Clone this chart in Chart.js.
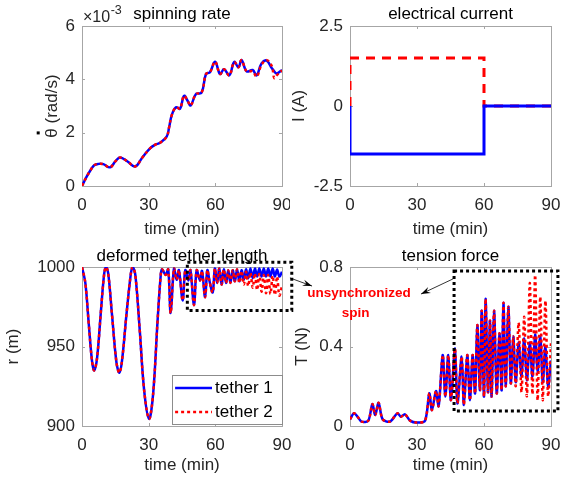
<!DOCTYPE html>
<html>
<head>
<meta charset="utf-8">
<script src="https://cdn.jsdelivr.net/npm/chart.js@4.4.0/dist/chart.umd.min.js"></script>
<style>
  body { margin: 0; background: #fff; }
  #fig { position: relative; width: 569px; height: 480px; overflow: hidden; background: #fff; }
  #fig canvas { position: absolute; }
</style>
</head>
<body>
<div id="fig">
  <canvas id="spin" width="290" height="240" style="left:0;top:0"></canvas>
  <canvas id="current" width="280" height="240" style="left:289px;top:0"></canvas>
  <canvas id="length" width="300" height="240" style="left:0;top:240px"></canvas>
  <canvas id="tension" width="284" height="240" style="left:285px;top:240px"></canvas>
</div>
<script>
// time ticks shared by all four panels (min)
var timeTicks = [0, 30, 60, 90];

// spinning rate (x1e-3 rad/s)
var spinTime = [0, 2.1, 3.9, 5.5, 7.5, 9.6, 12.6, 15, 17.1, 20.5, 23.9, 27, 30.6, 33, 35.1, 38.1, 39.2, 40.4, 42.3, 44.1, 45.9, 47.5, 48.9, 51.3, 53.8, 55.8, 57.6, 59.9, 62.1, 63.9, 66.3, 68.5, 70.4, 71.8, 74.1, 76.8, 78.6, 80.8, 83.1, 85.4, 86.5, 87.6, 90];
var spinRate1 = [0, 0.35, 0.6, 0.78, 0.83, 0.82, 0.7, 0.92, 1.07, 0.92, 0.73, 1.05, 1.41, 1.55, 1.62, 1.85, 2.2, 2.66, 2.95, 2.9, 3.38, 3.2, 3.02, 3.45, 3.5, 4.2, 4.27, 4.66, 4.2, 4.38, 4.15, 4.65, 4.45, 4.72, 4.3, 4.35, 4.15, 4.6, 4.7, 4.42, 4.3, 4.22, 4.35];
var spinRate2 = [0, 0.35, 0.6, 0.78, 0.83, 0.82, 0.7, 0.92, 1.07, 0.92, 0.73, 1.05, 1.41, 1.55, 1.62, 1.85, 2.2, 2.66, 2.95, 2.9, 3.38, 3.2, 3.02, 3.45, 3.5, 4.2, 4.27, 4.66, 4.2, 4.38, 4.15, 4.65, 4.45, 4.72, 4.3, 4.3, 4.1, 4.55, 4.72, 4.5, 4.05, 4.15, 4.33];
var spinTicks = [0, 2, 4, 6];

// electrical current (A)
var currentTime = [0, 0, 60, 60, 90];
var current1 = [0, -1.5, -1.5, 0, 0];
var current2 = [0, 1.5, 1.5, 0, 0];
var currentTicks = [-2.5, 0, 2.5];

// deformed tether length (m)
var lengthTime = [0, 1.5, 3, 4.5, 5.5, 6.8, 8.5, 10, 10.8, 11.8, 13.5, 15.5, 16.8, 18, 20, 22, 22.8, 24, 26, 28, 30.2, 32, 34, 35.5, 36.1, 37.6, 38.8, 39.9, 41.4, 42.6, 43.6, 45.3, 46.5, 47.9, 48.8, 50.4, 51.6, 53.1, 54, 55.4, 56.4, 57.4, 58.8, 59.8, 60.8, 61.8, 62.8, 63.8, 64.8, 65.8, 66.8, 67.8, 68.8, 69.8, 70.8, 71.8, 72.8, 73.8, 74.8, 75.8, 76.8, 77.8, 78.8, 79.8, 80.8, 81.8, 82.8, 83.8, 84.8, 85.8, 86.8, 87.8, 88.8, 90];
var length1 = [1000, 990, 965, 941, 935, 943, 972, 996, 1000, 996, 970, 940, 933.5, 941, 970, 996, 1000, 995, 960, 922, 904.5, 920, 966, 996, 998.5, 995, 998.5, 971, 999, 992, 998, 979, 998, 991.5, 998, 976, 998, 991.5, 997.5, 981, 998, 991, 984, 999, 990, 999, 989, 998.5, 990, 998, 990, 998, 991, 998.5, 991, 998, 992, 998.5, 993, 999, 993, 999, 994, 999, 994, 999, 994, 999, 994, 999, 994, 998.5, 994, 997];
var length2 = [1000, 990, 965, 941, 935, 943, 972, 996, 1000, 996, 970, 940, 933.5, 941, 970, 996, 1000, 995, 960, 922, 904.5, 920, 966, 996, 998.5, 995, 998.5, 971, 999, 992, 998, 979, 998, 991.5, 998, 976, 998, 991.5, 997.5, 981, 998, 991, 984, 999, 990, 999, 989, 998.5, 990, 998, 990, 998, 991, 998.5, 990, 997.5, 989, 997, 988, 996.5, 987, 996, 985.5, 995.5, 984.5, 995, 983.5, 995, 983, 994.5, 982.5, 994, 982, 988];
var lengthTicks = [900, 950, 1000];

// tension force (N)
var tensionTime = [0, 1.8, 3.5, 5.2, 8.2, 10, 11.3, 12.8, 14.6, 17.9, 21.2, 22.8, 24.6, 26.9, 29.9, 33.6, 35.5, 36.7, 38.5, 39.7, 41.5, 42.7, 44, 45.2, 47, 48.1, 50, 51, 52.5, 53.7, 54.9, 56, 57, 58.2, 59, 60, 60.7, 61.8, 62.7, 63.4, 64.5, 65.7, 66.9, 67.9, 68.7, 69.7, 70.9, 72, 73.1, 74.2, 75.5, 76.8, 78, 79.2, 80.5, 81.7, 82.9, 84, 85.2, 86.3, 87.5, 88.7, 90];
var tension1 = [0.034, 0.064, 0.045, 0.022, 0.027, 0.11, 0.055, 0.117, 0.034, 0.022, 0.064, 0.047, 0.059, 0.027, 0.017, 0.027, 0.164, 0.08, 0.176, 0.1, 0.357, 0.148, 0.357, 0.13, 0.39, 0.114, 0.349, 0.106, 0.357, 0.13, 0.357, 0.164, 0.508, 0.18, 0.58, 0.148, 0.64, 0.17, 0.53, 0.148, 0.58, 0.164, 0.466, 0.18, 0.62, 0.2, 0.6, 0.215, 0.45, 0.22, 0.42, 0.25, 0.44, 0.23, 0.42, 0.25, 0.46, 0.27, 0.45, 0.22, 0.4, 0.2, 0.33];
var tension2 = [0.034, 0.064, 0.045, 0.022, 0.027, 0.11, 0.055, 0.117, 0.034, 0.022, 0.064, 0.047, 0.059, 0.027, 0.017, 0.027, 0.164, 0.08, 0.176, 0.1, 0.357, 0.148, 0.357, 0.13, 0.39, 0.114, 0.349, 0.106, 0.357, 0.13, 0.357, 0.164, 0.508, 0.18, 0.58, 0.148, 0.64, 0.17, 0.53, 0.148, 0.58, 0.164, 0.466, 0.18, 0.62, 0.2, 0.6, 0.215, 0.45, 0.2, 0.52, 0.17, 0.55, 0.15, 0.72, 0.16, 0.76, 0.13, 0.65, 0.13, 0.63, 0.15, 0.42];
var tensionTicks = [0, 0.4, 0.8];

var seriesNames = ["tether 1", "tether 2"];

var FONT = "'Liberation Sans', Arial, Helvetica, sans-serif";
Chart.defaults.font.family = FONT;
Chart.defaults.font.size = 17;
Chart.defaults.color = "#262626";

function pairs(xs, ys) {
  return xs.map(function (x, i) { return { x: x, y: ys[i] }; });
}

// solid blue for tether 1, red dots laid over it for tether 2
function blueSeries(xs, ys, smooth) {
  return { label: seriesNames[0], data: pairs(xs, ys), borderColor: "#0000ff", borderWidth: 2.5,
    pointRadius: 0, tension: smooth, order: 1 };
}
function redSeries(xs, ys, smooth) {
  return { label: seriesNames[1], data: pairs(xs, ys), borderColor: "#ff0000", borderWidth: 2.5,
    borderDash: [3, 3], pointRadius: 0, tension: smooth, order: 0 };
}

// box round the axes with short inward ticks on every side
var framePlugin = {
  id: "frame",
  beforeDatasetsDraw: function (chart) {
    var a = chart.chartArea, ctx = chart.ctx;
    var xs = chart.scales.x, ys = chart.scales.y;
    ctx.save();
    ctx.strokeStyle = "#a6a6a6";
    ctx.lineWidth = 1;
    ctx.strokeRect(a.left + 0.5, a.top + 0.5, a.right - a.left, a.bottom - a.top);
    ctx.beginPath();
    xs.ticks.forEach(function (t) {
      var px = Math.round(xs.getPixelForValue(t.value)) + 0.5;
      ctx.moveTo(px, a.bottom); ctx.lineTo(px, a.bottom - 3);
      ctx.moveTo(px, a.top); ctx.lineTo(px, a.top + 3);
    });
    ys.ticks.forEach(function (t) {
      var py = Math.round(ys.getPixelForValue(t.value)) + 0.5;
      ctx.moveTo(a.left, py); ctx.lineTo(a.left + 3, py);
      ctx.moveTo(a.right, py); ctx.lineTo(a.right - 3, py);
    });
    ctx.stroke();
    ctx.restore();
  }
};

function dottedBox(ctx, x0, y0, x1, y1) {
  ctx.save();
  ctx.strokeStyle = "#000";
  ctx.lineWidth = 3;
  ctx.setLineDash([3, 3]);
  ctx.strokeRect(x0, y0, x1 - x0, y1 - y0);
  ctx.restore();
}

function arrow(ctx, x0, y0, x1, y1) {
  var ang = Math.atan2(y1 - y0, x1 - x0);
  ctx.save();
  ctx.strokeStyle = "#000";
  ctx.fillStyle = "#000";
  ctx.lineWidth = 0.8;
  ctx.beginPath();
  ctx.moveTo(x0, y0);
  ctx.lineTo(x1, y1);
  ctx.stroke();
  ctx.beginPath();
  ctx.moveTo(x1, y1);
  ctx.lineTo(x1 - 10 * Math.cos(ang - 0.33), y1 - 10 * Math.sin(ang - 0.33));
  ctx.lineTo(x1 - 6 * Math.cos(ang), y1 - 6 * Math.sin(ang));
  ctx.lineTo(x1 - 10 * Math.cos(ang + 0.33), y1 - 10 * Math.sin(ang + 0.33));
  ctx.closePath();
  ctx.fill();
  ctx.restore();
}

function panel(id, datasets, cfg, extra) {
  var plugins = [framePlugin];
  if (extra) plugins.push(extra);
  return new Chart(document.getElementById(id), {
    type: "line",
    data: { datasets: datasets },
    plugins: plugins,
    options: {
      responsive: false,
      animation: false,
      events: [],
      layout: { autoPadding: false, padding: { left: 0, right: cfg.padRight, top: 0, bottom: 0 } },
      plugins: {
        legend: { display: false },
        tooltip: { enabled: false },
        title: {
          display: true, text: cfg.title, fullSize: false, color: "#000",
          font: { size: 17, weight: "normal" },
          padding: { top: cfg.titleTop, bottom: cfg.titleBottom }
        }
      },
      scales: {
        x: {
          type: "linear", min: 0, max: 90,
          afterBuildTicks: function (s) { s.ticks = timeTicks.map(function (v) { return { value: v }; }); },
          afterFit: function (s) { s.height = 54; s.paddingLeft = 0; s.paddingRight = 0; },
          grid: { display: false, drawTicks: false },
          border: { display: false },
          ticks: { padding: 8.8, maxRotation: 0, autoSkip: false, callback: function (v) { return String(v); } },
          title: { display: true, text: "time (min)", padding: { top: 0, bottom: cfg.xTitleBottom } }
        },
        y: {
          type: "linear", min: cfg.yTicks[0], max: cfg.yTicks[cfg.yTicks.length - 1],
          afterBuildTicks: function (s) { s.ticks = cfg.yTicks.map(function (v) { return { value: v }; }); },
          afterFit: function (s) { s.width = cfg.yWidth; s.paddingTop = 0; s.paddingBottom = 0; },
          grid: { display: false, drawTicks: false },
          border: { display: false },
          ticks: { padding: 7, autoSkip: false, callback: function (v) { return String(v); } },
          title: { display: true, text: cfg.yTitle, padding: { top: cfg.yTitleTop, bottom: 0 } }
        }
      }
    }
  });
}

// exponent above the spinning-rate axis, and the time-derivative dot over theta
var spinLabels = {
  id: "spinLabels",
  afterDraw: function (chart) {
    var ctx = chart.ctx, a = chart.chartArea, ys = chart.scales.y;
    var yt = ys.options.title;
    ctx.save();
    ctx.fillStyle = "#262626";
    ctx.textBaseline = "alphabetic";
    ctx.font = "16px " + FONT;
    ctx.fillText("\u00d710", a.left + 1, a.top - 4);
    var w = ctx.measureText("\u00d710").width;
    ctx.font = "12.5px " + FONT;
    ctx.fillText("-3", a.left + 1 + w + 0.5, a.top - 12);

    ctx.font = "17px " + FONT;
    var full = ctx.measureText(yt.text).width;
    var theta = ctx.measureText(yt.text.charAt(0)).width;
    var cx = ys.left + yt.padding.top + 17 * 1.2 / 2;
    var cy = (a.top + a.bottom) / 2 + full / 2 - theta / 2;
    ctx.fillStyle = "#000";
    ctx.fillRect(cx - 15.5, cy - 1.5, 3, 3);
    ctx.restore();
  }
};

panel("spin", [blueSeries(spinTime, spinRate1, 0.4), redSeries(spinTime, spinRate2, 0.4)], {
  title: "spinning rate", titleTop: 4.6, titleBottom: 1,
  yTitle: "\u03b8 (rad/s)", yTitleTop: 42, yWidth: 82, padRight: 8,
  yTicks: spinTicks, xTitleBottom: 0.8
}, spinLabels);

var currentSets = [
  { label: seriesNames[0], data: pairs(currentTime, current1), borderColor: "#0000ff", borderWidth: 3,
    pointRadius: 0, tension: 0, order: 0 },
  { label: seriesNames[1], data: pairs(currentTime, current2), borderColor: "#ff0000", borderWidth: 3,
    borderDash: [9, 7], pointRadius: 0, tension: 0, order: 1 }
];
panel("current", currentSets, {
  title: "electrical current", titleTop: 4.6, titleBottom: 1,
  yTitle: "I (A)", yTitleTop: 0, yWidth: 61, padRight: 18,
  yTicks: currentTicks, xTitleBottom: 0.8
});

// zoom frame over the late oscillations plus the legend box
var lengthExtras = {
  id: "lengthExtras",
  afterDatasetsDraw: function (chart) {
    var xs = chart.scales.x, ys = chart.scales.y, ctx = chart.ctx;
    dottedBox(ctx, xs.getPixelForValue(47.4), ys.getPixelForValue(1003),
      xs.getPixelForValue(94.4), ys.getPixelForValue(972.6));

    var left = Math.round(xs.getPixelForValue(40.5)), right = Math.round(xs.getPixelForValue(90));
    var top = Math.round(ys.getPixelForValue(932)), bottom = Math.round(ys.getPixelForValue(901.3));
    ctx.save();
    ctx.fillStyle = "#fff";
    ctx.fillRect(left, top, right - left, bottom - top);
    ctx.strokeStyle = "#8c8c8c";
    ctx.lineWidth = 1;
    ctx.strokeRect(left + 0.5, top + 0.5, right - left, bottom - top);
    var rows = [923.9, 908.8];
    chart.data.datasets.forEach(function (ds, i) {
      var py = ys.getPixelForValue(rows[i]);
      ctx.strokeStyle = ds.borderColor;
      ctx.lineWidth = ds.borderWidth;
      ctx.setLineDash(ds.borderDash || []);
      ctx.beginPath();
      ctx.moveTo(xs.getPixelForValue(41.9), py);
      ctx.lineTo(xs.getPixelForValue(58.5), py);
      ctx.stroke();
      ctx.setLineDash([]);
      ctx.fillStyle = "#000";
      ctx.font = "17px " + FONT;
      ctx.textBaseline = "middle";
      ctx.fillText(ds.label, xs.getPixelForValue(59.9), py);
    });
    ctx.restore();
  }
};

panel("length", [blueSeries(lengthTime, length1, 0.35), redSeries(lengthTime, length2, 0.35)], {
  title: "deformed tether length", titleTop: 6.3, titleBottom: 0.3,
  yTitle: "r (m)", yTitleTop: 3.6, yWidth: 82, padRight: 18,
  yTicks: lengthTicks, xTitleBottom: 4.3
}, lengthExtras);

// zoom frame, pointer arrows and the red note
var tensionExtras = {
  id: "tensionExtras",
  afterDatasetsDraw: function (chart) {
    var xs = chart.scales.x, ys = chart.scales.y, ctx = chart.ctx;
    function px(t) { return xs.getPixelForValue(t); }
    function py(v) { return ys.getPixelForValue(v); }
    dottedBox(ctx, px(46.6), py(0.78), px(93.1), py(0.075));
    arrow(ctx, px(-26.9), py(0.745), px(-17), py(0.704));
    arrow(ctx, px(46.1), py(0.74), px(31.8), py(0.664));
    ctx.save();
    ctx.fillStyle = "#ff0000";
    ctx.font = "bold 13.5px " + FONT;
    ctx.textAlign = "center";
    ctx.textBaseline = "middle";
    ctx.fillText("unsynchronized", px(4.0), py(0.667));
    ctx.fillText("spin", px(2.5), py(0.566));
    ctx.restore();
  }
};

panel("tension", [blueSeries(tensionTime, tension1, 0.3), redSeries(tensionTime, tension2, 0.3)], {
  title: "tension force", titleTop: 6.3, titleBottom: 0.3,
  yTitle: "T (N)", yTitleTop: 7, yWidth: 65, padRight: 18,
  yTicks: tensionTicks, xTitleBottom: 4.3
}, tensionExtras);
</script>
</body>
</html>
